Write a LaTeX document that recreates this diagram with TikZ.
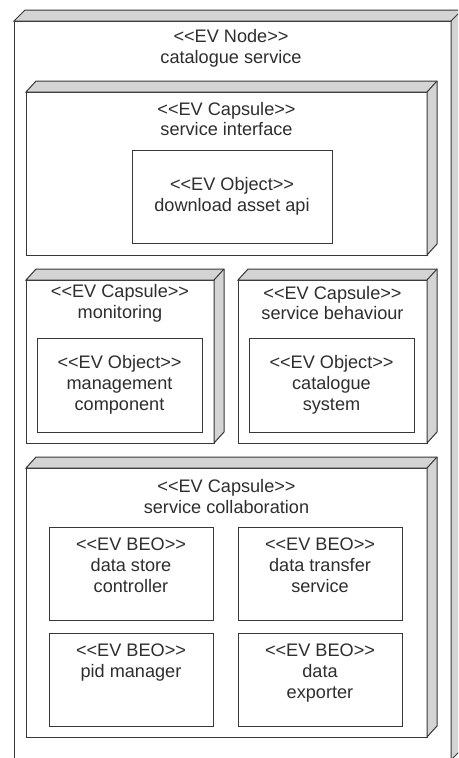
\documentclass[tikz,border=0pt]{standalone}
\usepackage{fontspec}
\setmainfont{Liberation Sans}
\usetikzlibrary{calc}
\newcommand\stereo[1]{<{}<#1>{}>}
\tikzset{
  face/.style={inner sep=0pt, outer sep=0pt, draw=black!78, line width=0.75pt, fill=white, rectangle},
  side/.style={draw=black!78, line width=0.75pt, fill=black!17, line join=miter},
  lbl/.style={align=center, font=\fontsize{13.6}{15.6}\selectfont, inner sep=0pt, text=black!82},
}
\newcommand\boxnode[5]{%
  \node[face, minimum width={(#4-#2)*0.75pt}, minimum height={(#5-#3)*0.75pt}]
    (#1) at ({(#2+#4)/2},{(#3+#5)/2}) {};
}
\newcommand\threed[3]{%
  \draw[side] (#1.north west) -- ++(#2,-#3) -- ($(#1.north east)+(#2,-#3)$)
    -- ($(#1.south east)+(#2,-#3)$) -- (#1.south east) -- (#1.north east) -- cycle;
  \draw[side, fill=none] (#1.north east) -- ++(#2,-#3);
}
\begin{document}
\begin{tikzpicture}[x=0.75pt, y=-0.75pt]
\useasboundingbox (0,0) rectangle (458,758);
\clip (0,0) rectangle (458,758);
\fill[white] (0,0) rectangle (458,758);

% outer EV Node
\boxnode{evnode}{14}{21}{451}{760}
\threed{evnode}{11}{11}
\node[lbl] (evnode-t) at (231,48) {\stereo{EV Node}\\catalogue service};

% service interface capsule
\boxnode{si}{26}{92}{427}{255}
\threed{si}{10}{11}
\node[lbl] (si-t) at (226.5,119) {\stereo{EV Capsule}\\service interface};
\boxnode{dl}{132}{150}{332}{243}
\node[lbl] (dl-t) at (dl.center) {\stereo{EV Object}\\download asset api};

% monitoring capsule
\boxnode{mon}{26}{280}{214}{443}
\threed{mon}{10}{11}
\node[lbl] (mon-t) at (120,303) {\stereo{EV Capsule}\\monitoring};
\boxnode{mgmt}{37}{338}{202}{432}
\node[lbl] (mgmt-t) at (mgmt.center) {\stereo{EV Object}\\management\\component};

% service behaviour capsule
\boxnode{beh}{238}{280}{427}{443}
\threed{beh}{10}{11}
\node[lbl] (beh-t) at (332.5,303) {\stereo{EV Capsule}\\service behaviour};
\boxnode{cat}{249}{338}{414}{432}
\node[lbl] (cat-t) at (cat.center) {\stereo{EV Object}\\catalogue\\system};

% service collaboration capsule
\boxnode{col}{26}{468}{427}{737}
\threed{col}{10}{11}
\node[lbl] (col-t) at (226.5,496.5) {\stereo{EV Capsule}\\service collaboration};

\boxnode{dsc}{49}{527}{213}{620}
\node[lbl, anchor=north] (dsc-t) at ($(dsc.north)+(0,10.5)$) {\stereo{EV BEO}\\data store\\controller};
\boxnode{dts}{238}{527}{402}{620}
\node[lbl, anchor=north] (dts-t) at ($(dts.north)+(0,10.5)$) {\stereo{EV BEO}\\data transfer\\service};
\boxnode{pid}{49}{633}{213}{726}
\node[lbl, anchor=north] (pid-t) at ($(pid.north)+(0,10.5)$) {\stereo{EV BEO}\\pid manager};
\boxnode{exp}{238}{633}{402}{726}
\node[lbl, anchor=north] (exp-t) at ($(exp.north)+(0,10.5)$) {\stereo{EV BEO}\\data\\exporter};
\end{tikzpicture}
\end{document}
